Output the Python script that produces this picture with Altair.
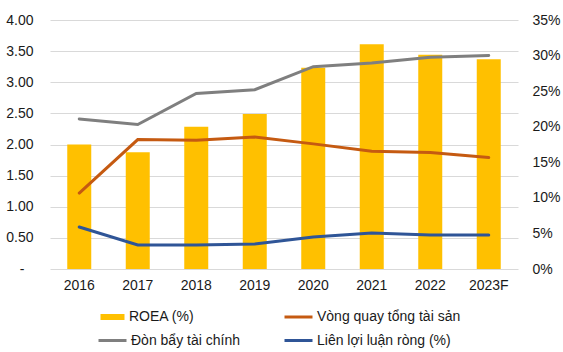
import altair as alt
import pandas as pd

years = ["2016", "2017", "2018", "2019", "2020", "2021", "2022", "2023F"]
roea = [17.5, 16.4, 20.0, 21.8, 28.3, 31.6, 30.1, 29.5]          # % (right axis)
turnover = [1.22, 2.08, 2.07, 2.12, 2.01, 1.89, 1.87, 1.79]       # left axis
leverage = [2.41, 2.32, 2.82, 2.88, 3.25, 3.31, 3.40, 3.43]       # left axis
margin = [5.9, 3.37, 3.37, 3.5, 4.5, 5.06, 4.78, 4.78]            # % (right axis)

left_ticks = [0.0, 0.5, 1.0, 1.5, 2.0, 2.5, 3.0, 3.5, 4.0]
right_ticks = [0, 5, 10, 15, 20, 25, 30, 35]

names = ["ROEA (%)", "Vòng quay tổng tài sản", "Đòn bẩy tài chính", "Liên lợi luận ròng (%)"]
colors = ["#FFC000", "#C55A11", "#7F7F7F", "#2F5597"]

df = pd.DataFrame({"year": years, "roea": roea, "turnover": turnover,
                   "leverage": leverage, "margin": margin})

FONT = "Liberation Sans"
TXT = "#1a1a1a"

x_enc = alt.X("year:N", sort=years, title=None,
              scale=alt.Scale(paddingInner=0, paddingOuter=0),
              axis=alt.Axis(labelAngle=0, domain=False, ticks=False, tickSize=0,
                            labelPadding=9, labelFontSize=14, labelFont=FONT,
                            labelColor=TXT, grid=False))

right_axis = alt.Axis(orient="right", values=right_ticks, tickCount=8, grid=False,
                      domain=False, ticks=False, tickSize=0, labelPadding=14,
                      labelFontSize=14, labelFont=FONT, labelColor=TXT,
                      labelOverlap=False, labelFlush=False,
                      labelExpr="datum.value + '%'")
left_axis = alt.Axis(orient="left", values=left_ticks, tickCount=9, grid=True,
                     gridColor="#D9D9D9", gridWidth=1, domain=False, ticks=False,
                     tickSize=0,
                     labelPadding={"condition": {"test": "datum.value == 0", "value": 26},
                                   "value": 17},
                     labelFontSize=14, labelFont=FONT,
                     labelColor=TXT, labelOverlap=False, labelFlush=False,
                     labelExpr="datum.value == 0 ? '-' : format(datum.value, '.2f')")

right_y = alt.Scale(domain=[0, 35])
left_y = alt.Scale(domain=[0, 4])


def leg(x, y, sym, size):
    return alt.Legend(orient="none", legendX=x, legendY=y, title=None,
                      symbolType=sym, symbolSize=size, symbolStrokeWidth=3,
                      labelFontSize=14, labelFont=FONT, labelColor=TXT,
                      labelOffset=3, labelLimit=300, padding=0)


def col(i, x, y, sym, size):
    return alt.Color("s:N", scale=alt.Scale(domain=[names[i]], range=[colors[i]]),
                     legend=leg(x, y, sym, size))


def tagged(i):
    return alt.Chart(df).transform_calculate(s=f"'{names[i]}'")


bar = tagged(0).mark_bar(size=24).encode(
    x=x_enc,
    y=alt.Y("roea:Q", scale=right_y, title=None, axis=right_axis),
    color=col(0, 49, 283.5, "M-1,-0.25H1V0.25H-1Z", 576),
)

blue = tagged(3).mark_line(strokeWidth=3, strokeCap="round").encode(
    x=x_enc,
    y=alt.Y("margin:Q", scale=right_y, title=None, axis=right_axis),
    color=col(3, 233, 305, "stroke", 784),
)

gray = tagged(2).mark_line(strokeWidth=3, strokeCap="round").encode(
    x=x_enc,
    y=alt.Y("leverage:Q", scale=left_y, title=None, axis=left_axis),
    color=col(2, 47, 305, "stroke", 784),
)

orange = tagged(1).mark_line(strokeWidth=3, strokeCap="round").encode(
    x=x_enc,
    y=alt.Y("turnover:Q", scale=left_y, title=None, axis=left_axis),
    color=col(1, 233, 281.5, "stroke", 784),
)

right_group = alt.layer(bar, blue).resolve_scale(color="independent")
left_group = alt.layer(gray, orange).resolve_scale(color="independent")

chart = alt.layer(right_group, left_group).resolve_scale(
    y="independent", color="independent"
).properties(
    width=468, height=249,
    autosize=alt.AutoSizeParams(type="none"),
    padding={"left": 50, "top": 20, "right": 45, "bottom": 83},
    background="white",
).configure_view(stroke=None)

chart.save("out.html", embed_options={"renderer": "svg", "actions": False})
